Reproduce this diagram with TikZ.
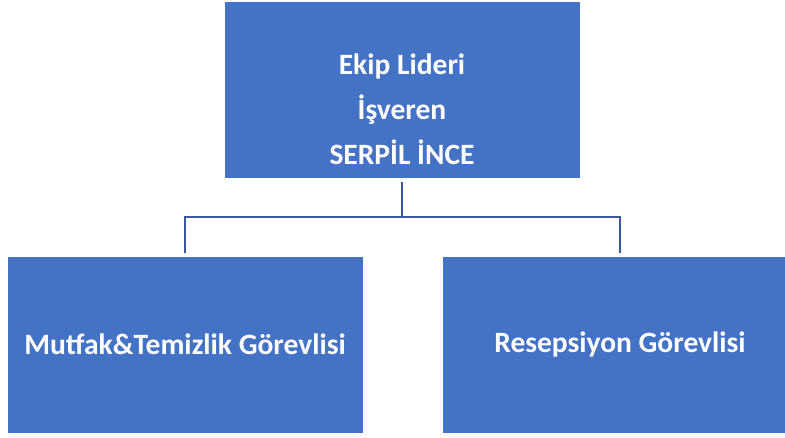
\documentclass[tikz,border=0pt]{standalone}
\usepackage{fontspec}
\setmainfont{Carlito}
\definecolor{kutumavi}{HTML}{4472C4}
\definecolor{cizgimavi}{HTML}{3A5A9C}
\begin{document}
\begin{tikzpicture}[x=1pt, y=1pt,
  kutu/.style = {rectangle, fill=kutumavi, draw=white, line width=0.8pt,
    minimum width=356pt, minimum height=177pt, text=white,
    font=\fontsize{29.5}{45}\selectfont\bfseries, align=center},
  yazi/.style = {text=white, font=\fontsize{29.5}{45}\selectfont\bfseries, align=center},
  bag/.style = {draw=cizgimavi, line width=2.4pt}]
\useasboundingbox (0,0) rectangle (785,-437);

\node[kutu] (lider) at (402,-90) {};
\node[yazi] (liderYazi) at (402,-109) {Ekip Lideri\\İşveren\\SERPİL İNCE};
\node[kutu] (mutfak) at (185,-344.5) {Mutfak\&Temizlik Görevlisi};
\node[kutu] (resepsiyon) at (620,-344.5) {Resepsiyon Görevlisi};

\coordinate (bus) at (402,-217);
\draw[bag, shorten <=3pt, shorten >=3pt] (lider.south) |- (bus) -| (mutfak.north);
\draw[bag, shorten <=3pt, shorten >=3pt] (lider.south) |- (bus) -| (resepsiyon.north);
\end{tikzpicture}
\end{document}
